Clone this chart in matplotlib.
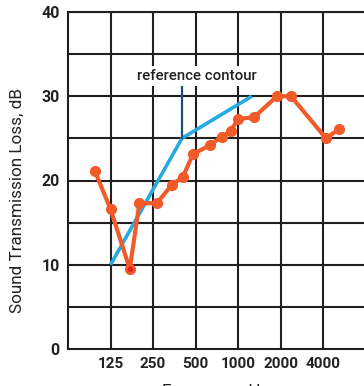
import matplotlib
matplotlib.use("Agg")
import matplotlib.pyplot as plt
from matplotlib.ticker import FixedLocator, NullLocator

# measured transmission loss (1/3 octave bands)
freq_hz = [97, 125, 171, 200, 266, 340, 406, 478, 631, 768, 889, 996, 1294, 1882, 2366, 4190, 5170]
tl_db = [21.1, 16.6, 9.5, 17.3, 17.3, 19.5, 20.4, 23.1, 24.2, 25.2, 25.9, 27.3, 27.5, 30.0, 30.0, 25.0, 26.1]

# reference contour
ref_freq = [125, 400, 1250]
ref_db = [10, 25, 30]

octave_ticks = [125, 250, 500, 1000, 2000, 4000]
octave_labels = ["125", "250", "500", "1000", "2000", "4000"]
y_grid = [5, 10, 15, 20, 25, 30, 35, 40]
y_ticks = [0, 10, 20, 30, 40]

ORANGE = "#f15a29"
BLUE = "#27aae1"
NAVY = "#1b4f7a"
GRID = "#231f20"
TEXT = "#222222"

plt.rcParams["font.family"] = ["Roboto", "DejaVu Sans"]

fig = plt.figure(figsize=(3.64, 3.86), dpi=100)
ax = fig.add_axes([68 / 364, 1 - 349 / 386, 1 - 68 / 364, 337 / 386])

ax.set_xscale("log", base=2)
ax.set_xlim(62.5, 7780)
ax.set_ylim(0, 40)

# grid
for f in octave_ticks:
    ax.axvline(f, color=GRID, lw=1.5, zorder=1)
for y in y_grid:
    ax.axhline(y, color=GRID, lw=1.5, zorder=1)

ax.spines["right"].set_visible(False)
for side in ["left", "bottom", "top"]:
    ax.spines[side].set_color(GRID)
    ax.spines[side].set_linewidth(1.5)

ax.xaxis.set_major_locator(FixedLocator(octave_ticks))
ax.xaxis.set_minor_locator(NullLocator())
ax.set_xticklabels(octave_labels, fontsize=11, color=TEXT, fontweight=600)
ax.set_yticks(y_ticks)
ax.set_yticklabels([str(v) for v in y_ticks], fontsize=11.5, color=TEXT, fontweight=600)
ax.tick_params(length=0, pad=6)

# reference contour
ax.plot(ref_freq, ref_db, color=BLUE, lw=2.6, solid_capstyle="butt", zorder=3)
ax.plot([ref_freq[1], ref_freq[1]], [ref_db[1], 31.3], color=NAVY, lw=1.6, zorder=3)
ax.text(511, 32.4, "reference contour", ha="center", va="center", fontsize=10.8,
        fontweight="medium", color=TEXT, zorder=4,
        bbox=dict(boxstyle="square,pad=0.2", fc="white", ec="none"))

# measured curve
ax.plot(freq_hz, tl_db, color=ORANGE, lw=3, marker="o", ms=7, zorder=5)
ax.plot(freq_hz[2], tl_db[2], "o", color="#e8202a", ms=3, zorder=6)

ax.set_ylabel("Sound Transmission Loss, dB", fontsize=12.3, color=TEXT)
ax.yaxis.set_label_coords(-0.145, 0.442)
ax.set_xlabel("Frequency, Hz", fontsize=12.3, color=TEXT, labelpad=9)

fig.savefig("out.png", dpi=100)
